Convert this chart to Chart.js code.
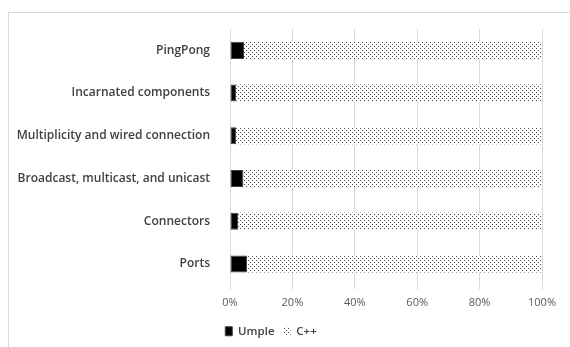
<!DOCTYPE html>
<html>
<head>
<meta charset="utf-8">
<script src="https://cdn.jsdelivr.net/npm/chart.js@4"></script>
<style>
  body { margin: 0; background: #fff; }
  #frame { position: absolute; left: 8px; top: 12px; width: 570px; height: 340px;
           border-left: 1px solid #d9d9d9; border-top: 1px solid #d9d9d9; }
  #chart { position: absolute; left: 0; top: 0; }
</style>
</head>
<body>
<div id="frame"></div>
<canvas id="chart" width="570" height="347"></canvas>
<script>
const categories = [
  'PingPong',
  'Incarnated components',
  'Multiplicity and wired connection',
  'Broadcast, multicast, and unicast',
  'Connectors',
  'Ports'
];
const umpleValues = [4.5, 2.0, 2.0, 4.3, 2.6, 5.5];
const cppValues = [95.5, 98.0, 98.0, 95.7, 97.4, 94.5];
const xTicks = [0, 20, 40, 60, 80, 100];

// dotted fill like the Excel pattern
function dotPattern() {
  const tile = document.createElement('canvas');
  tile.width = 4;
  tile.height = 4;
  const t = tile.getContext('2d');
  t.fillStyle = '#fff';
  t.fillRect(0, 0, 4, 4);
  t.fillStyle = '#444';
  t.fillRect(0, 0, 1, 1);
  t.fillRect(2, 2, 1, 1);
  return t.createPattern(tile, 'repeat');
}

const ctx = document.getElementById('chart').getContext('2d');
const cppFill = dotPattern();
const labelFont = { family: 'Open Sans', size: 12, weight: '600' };

new Chart(ctx, {
  type: 'bar',
  data: {
    labels: categories,
    datasets: [{
      label: 'Umple',
      data: umpleValues,
      backgroundColor: '#000',
      borderColor: '#404040',
      borderWidth: 1,
      borderSkipped: false,
      categoryPercentage: 0.8,
      barPercentage: 0.5
    }, {
      label: 'C++',
      data: cppValues,
      backgroundColor: cppFill,
      borderWidth: 0,
      categoryPercentage: 0.8,
      barPercentage: 0.5
    }]
  },
  options: {
    indexAxis: 'y',
    responsive: false,
    animation: false,
    devicePixelRatio: 1,
    layout: { padding: { top: 29, right: 28, left: 0, bottom: 0 } },
    scales: {
      x: {
        stacked: true,
        min: 0,
        max: 100,
        afterBuildTicks: scale => { scale.ticks = xTicks.map(v => ({ value: v })); },
        ticks: {
          color: '#595959',
          font: { family: 'Open Sans', size: 11 },
          padding: 7,
          maxRotation: 0,
          callback: v => v + '%'
        },
        grid: { color: '#d9d9d9', tickLength: 4, drawTicks: true },
        border: { display: false }
      },
      y: {
        stacked: true,
        afterFit: scale => { scale.width = 230; },
        ticks: {
          color: '#404040',
          font: labelFont,
          padding: 12
        },
        grid: { display: false },
        border: { display: false }
      }
    },
    plugins: {
      legend: {
        position: 'bottom',
        labels: {
          color: '#404040',
          font: { family: 'Open Sans', size: 11.5, weight: '600' },
          boxWidth: 7,
          boxHeight: 9,
          padding: 9
        }
      },
      tooltip: { enabled: false }
    }
  }
});
</script>
</body>
</html>
